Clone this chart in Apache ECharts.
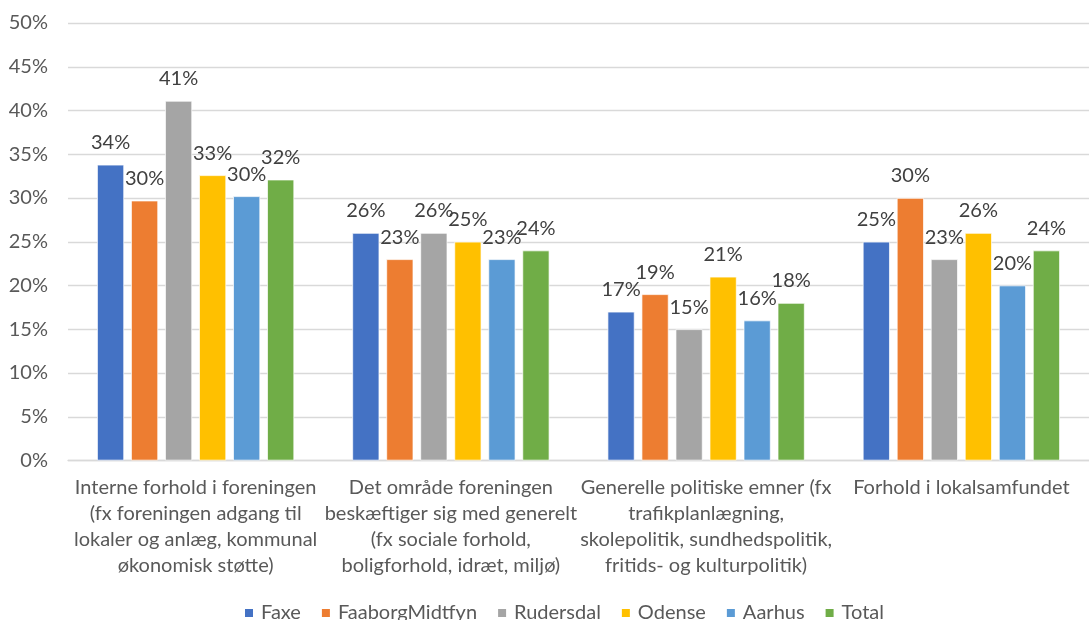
<!DOCTYPE html>
<html>
<head>
<meta charset="utf-8">
<script src="https://cdn.jsdelivr.net/npm/echarts@6/dist/echarts.min.js"></script>
<style>html,body{margin:0;padding:0;background:#fff}#c{width:1089px;height:620px}</style>
</head>
<body>
<div id="c"></div>
<script>
var categories = [
  'Interne forhold i foreningen\n(fx foreningen adgang til\nlokaler og anlæg, kommunal\nøkonomisk støtte)',
  'Det område foreningen\nbeskæftiger sig med generelt\n(fx sociale forhold,\nboligforhold, idræt, miljø)',
  'Generelle politiske emner (fx\ntrafikplanlægning,\nskolepolitik, sundhedspolitik,\nfritids- og kulturpolitik)',
  'Forhold i lokalsamfundet'
];
var seriesNames = ['Faxe', 'FaaborgMidtfyn', 'Rudersdal', 'Odense', 'Aarhus', 'Total'];
var faxe = [33.8, 26.0, 17.0, 25.0];
var faaborgMidtfyn = [29.7, 23.0, 19.0, 30.0];
var rudersdal = [41.1, 26.0, 15.0, 23.0];
var odense = [32.6, 25.0, 21.0, 26.0];
var aarhus = [30.2, 23.0, 16.0, 20.0];
var total = [32.1, 24.0, 18.0, 24.0];
var yTicks = [0, 5, 10, 15, 20, 25, 30, 35, 40, 45, 50];

var colors = ['#4472C4', '#ED7D31', '#A5A5A5', '#FFC000', '#5B9BD5', '#70AD47'];
var values = [faxe, faaborgMidtfyn, rudersdal, odense, aarhus, total];
var FONT = 'Lato';
var FS = 20;

var chart = echarts.init(document.getElementById('c'), null, {renderer: 'canvas'});
chart.setOption({
  animation: false,
  color: colors,
  textStyle: {fontFamily: FONT},
  grid: {left: 68, top: 23, width: 1033, height: 437.5, containLabel: false},
  legend: {
    data: seriesNames,
    top: 603,
    left: 243,
    padding: 0,
    itemWidth: 10,
    itemHeight: 10,
    itemGap: 19,
    icon: 'rect',
    textStyle: {fontFamily: FONT, fontSize: FS, color: '#595959', padding: [0, 0, 0, 2]}
  },
  xAxis: {
    type: 'category',
    data: categories,
    axisLine: {show: true, lineStyle: {color: '#d9d9d9', width: 1.3}},
    axisTick: {show: false},
    axisLabel: {fontFamily: FONT, fontSize: FS, color: '#595959', lineHeight: 26, margin: 14, interval: 0}
  },
  yAxis: {
    type: 'value',
    min: yTicks[0],
    max: yTicks[yTicks.length - 1],
    interval: 5,
    axisLine: {show: false},
    axisTick: {show: false},
    splitLine: {lineStyle: {color: '#d9d9d9', width: 1.3}},
    axisLabel: {fontFamily: FONT, fontSize: FS, color: '#595959', margin: 20, formatter: function (v) { return v + '%'; }}
  },
  series: seriesNames.map(function (n, i) {
    return {
      name: n,
      type: 'bar',
      data: values[i],
      barWidth: 27,
      barGap: '26%',
      itemStyle: {color: colors[i], borderColor: '#ffffff', borderWidth: 0.7},
      label: {
        show: true,
        position: 'top',
        distance: 12,
        fontFamily: FONT,
        fontSize: FS,
        color: '#404040',
        formatter: function (p) { return Math.round(p.value) + '%'; }
      }
    };
  })
});
</script>
</body>
</html>
